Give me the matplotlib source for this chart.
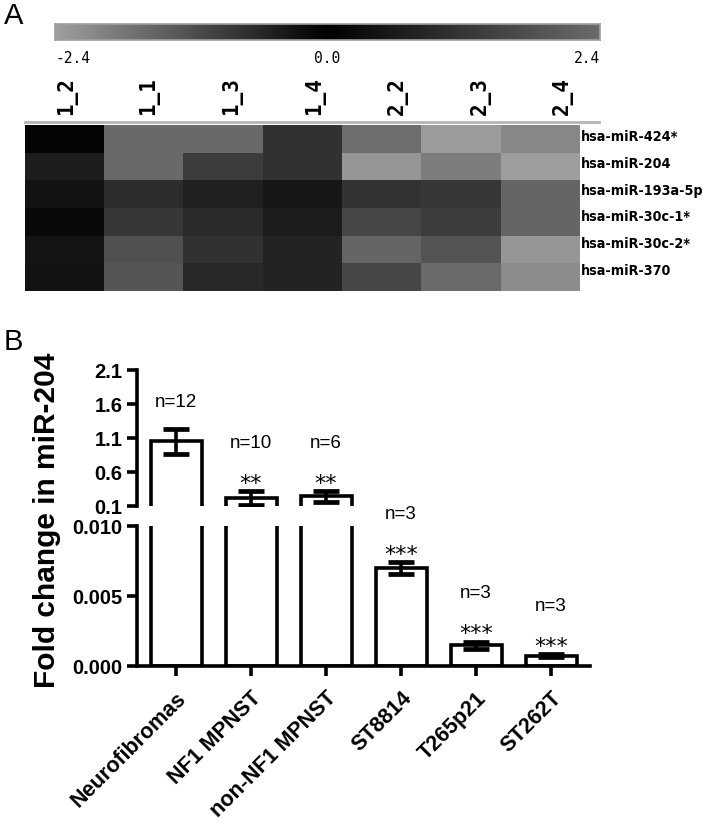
import matplotlib
matplotlib.use("Agg")
import matplotlib.pyplot as plt
import numpy as np
from matplotlib.colors import LinearSegmentedColormap
from matplotlib import font_manager

W, H = 706, 829
DPI = 100

# ---- panel A data ----
samples = ["1_2", "1_1", "1_3", "1_4", "2_2", "2_3", "2_4"]
mirnas = ["hsa-miR-424*", "hsa-miR-204", "hsa-miR-193a-5p",
          "hsa-miR-30c-1*", "hsa-miR-30c-2*", "hsa-miR-370"]
expr = np.array([
    [0.11, 2.36, 2.36, 1.12, -1.67, -2.35, -2.05],
    [0.67, 2.36, 1.35, 1.12, -2.28, -1.90, -2.40],
    [0.40, 1.01, 0.72, 0.49, -0.76, -0.84, -1.52],
    [0.22, 1.23, 0.94, 0.63, -1.06, -0.91, -1.52],
    [0.45, 1.79, 1.12, 0.79, -1.52, -1.29, -2.28],
    [0.40, 1.91, 0.90, 0.79, -1.06, -1.60, -2.13],
])
cbar_ticks = [-2.4, 0.0, 2.4]

# ---- panel B data ----
groups = ["Neurofibromas", "NF1 MPNST", "non-NF1 MPNST", "ST8814", "T265p21", "ST262T"]
fold = [1.05, 0.22, 0.24, 0.0070, 0.0015, 0.00073]
sem = [0.18, 0.10, 0.08, 0.0004, 0.00025, 0.0001]
n_labels = ["n=12", "n=10", "n=6", "n=3", "n=3", "n=3"]
stars = ["", "**", "**", "***", "***", "***"]
upper_ticks = [0.1, 0.6, 1.1, 1.6, 2.1]
lower_ticks = [0.000, 0.005, 0.010]


def box(x0, y0, x1, y1):
    # pixel box (top-left origin) -> figure rect
    return [x0 / W, 1 - y1 / H, (x1 - x0) / W, (y1 - y0) / H]


fig = plt.figure(figsize=(W / DPI, H / DPI), dpi=DPI)
sans = "Liberation Sans"

# condensed font for the miRNA names if there is one
cond = font_manager.findfont(font_manager.FontProperties(family="DejaVu Sans", stretch="condensed",
                                                         weight="bold"), fallback_to_default=True)
if "Condensed" in cond:
    row_font = dict(family="DejaVu Sans", stretch="condensed", weight="bold", fontsize=10.3)
else:
    row_font = dict(family=sans, weight="normal", fontsize=10.3)

# ---------- panel A ----------
cmap = LinearSegmentedColormap.from_list(
    "gbk", [(0.0, (0.62, 0.62, 0.62)), (0.5, (0, 0, 0)), (1.0, (0.42, 0.42, 0.42))])

cax = fig.add_axes(box(55, 25, 600, 41))
grad = np.linspace(-2.4, 2.4, 256)[None, :]
cax.imshow(grad, cmap=cmap, aspect="auto", extent=[-2.4, 2.4, 0, 1], vmin=-2.4, vmax=2.4)
cax.set_xlim(-2.4, 2.4)
cax.set_yticks([])
cax.set_xticks(cbar_ticks)
cax.set_xticklabels([f"{t:.1f}" for t in cbar_ticks], family="DejaVu Sans Mono", fontsize=10.5)
cax.tick_params(axis="x", length=0, pad=7)
labs = cax.get_xticklabels()
labs[0].set_ha("left")
labs[-1].set_ha("right")
for s in cax.spines.values():
    s.set_color("#a0a0a0")
    s.set_linewidth(1.2)

hax = fig.add_axes(box(25, 126, 580, 292))
hax.imshow(expr, cmap=cmap, vmin=-2.4, vmax=2.4, aspect="auto", interpolation="nearest")
hax.set_xticks([])
hax.set_yticks([])
for s in hax.spines.values():
    s.set_visible(False)
hax.plot([0, 1.035], [1.018, 1.018], transform=hax.transAxes, color="#b5b5b5", lw=2, clip_on=False)

# miRNA names, one per row, right of the map
rax = fig.add_axes(box(581, 124, 706, 284))
rax.set_ylim(len(mirnas) - 0.5, -0.5)
rax.set_xlim(0, 1)
rax.axis("off")
for i, m in enumerate(mirnas):
    rax.text(0, i, m, ha="left", va="center", **row_font)

lax = fig.add_axes(box(25, 75, 604, 117))
lax.set_xlim(-0.5, len(samples) - 0.5)
lax.set_ylim(0, 1)
lax.axis("off")
for i, s in enumerate(samples):
    lax.text(i, 0.5, s, rotation=90, ha="center", va="center",
             family="DejaVu Sans Mono", weight="bold", fontsize=15)

fig.text(4 / W, 1 - 16 / H, "A", family=sans, fontsize=21, va="center", ha="left")

# ---------- panel B ----------
x = np.arange(len(groups))
up = fig.add_axes(box(137, 371, 590, 507))
lo = fig.add_axes(box(137, 527, 590, 667))

for ax in (up, lo):
    ax.bar(x, fold, width=0.68, color="white", edgecolor="black", linewidth=2.6)
    ax.errorbar(x, fold, yerr=sem, fmt="none", ecolor="black", elinewidth=2.6,
                capsize=9.5, capthick=3.4)
    ax.set_xlim(-0.52, len(groups) - 0.48)
    for side in ("top", "right"):
        ax.spines[side].set_visible(False)
    ax.spines["left"].set_linewidth(2.6)
    ax.spines["bottom"].set_linewidth(2.6)
    ax.tick_params(axis="both", width=2.6, length=7)

up.set_ylim(0.1, 2.1)
up.set_yticks(upper_ticks)
up.set_yticklabels([f"{t:.1f}" for t in upper_ticks], family=sans, weight="bold", fontsize=14.5)
up.spines["bottom"].set_visible(False)
up.set_xticks([])

lo.set_ylim(0, 0.010)
lo.set_yticks(lower_ticks)
lo.set_yticklabels([f"{t:.3f}" for t in lower_ticks], family=sans, weight="bold", fontsize=14.5)
lo.set_xticks(x)
lo.set_xticklabels(groups, rotation=45, ha="right", va="top", rotation_mode="anchor",
                   family=sans, weight="bold", fontsize=15.5)
lo.tick_params(axis="x", pad=8)

for i in range(len(groups)):
    ax = up if fold[i] > 0.1 else lo
    top = fold[i] + sem[i]
    if stars[i]:
        ax.annotate(stars[i], (x[i], top), xytext=(0, 6), textcoords="offset points",
                    ha="center", va="center", family="DejaVu Sans", fontsize=16,
                    annotation_clip=False)
        n_off = 35
    else:
        n_off = 20
    ax.annotate(n_labels[i], (x[i], top), xytext=(0, n_off), textcoords="offset points",
                ha="center", va="center", family=sans, fontsize=13.5, annotation_clip=False)

fig.text(47 / W, 1 - 520 / H, "Fold change in miR-204", rotation=90, ha="center", va="center",
         family=sans, weight="bold", fontsize=21.5)
fig.text(4 / W, 1 - 342 / H, "B", family=sans, fontsize=21, va="center", ha="left")

fig.savefig("out.png", dpi=DPI)
